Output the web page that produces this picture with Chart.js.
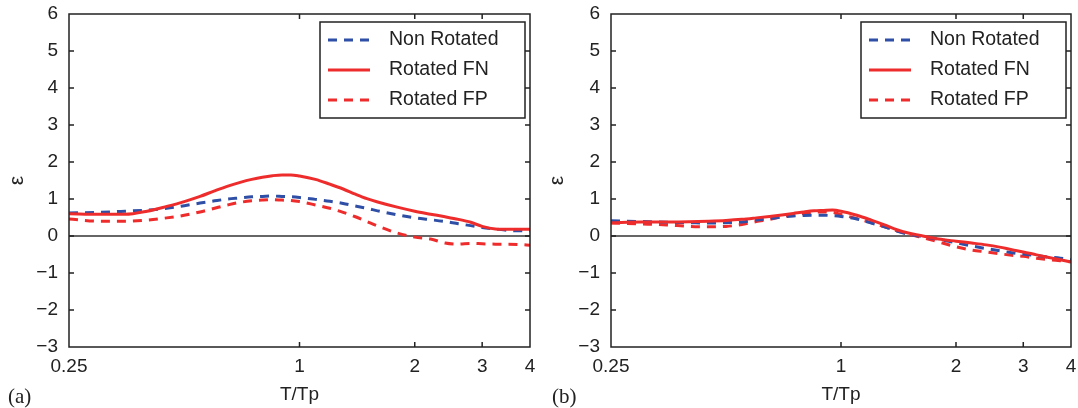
<!DOCTYPE html>
<html>
<head>
<meta charset="utf-8">
<script src="https://cdn.jsdelivr.net/npm/chart.js@4.4.1/dist/chart.umd.min.js"></script>
<style>
  html, body { margin: 0; padding: 0; background: #fff; }
  #wrap { position: relative; width: 1078px; height: 408px; }
  .panel { position: absolute; top: 0; height: 408px; }
  #panelA { left: 0; width: 540px; }
  #panelB { left: 540px; width: 538px; }
</style>
</head>
<body>
<div id="wrap">
  <div class="panel" id="panelA"><canvas id="chartA"></canvas></div>
  <div class="panel" id="panelB"><canvas id="chartB"></canvas></div>
</div>
<script>
// T/Tp values where each curve is sampled
const periods = [0.25, 0.3, 0.35, 0.4, 0.45, 0.5, 0.55, 0.6, 0.65, 0.7, 0.75, 0.8, 0.85, 0.9, 0.95,
                 1.0, 1.1, 1.2, 1.3, 1.4, 1.5, 1.6, 1.8, 2.0, 2.2, 2.4, 2.6, 2.8, 3.0, 3.25, 3.5, 3.75, 4.0];
const xTicks = [0.25, 1, 2, 3, 4];
const yMin = -3, yMax = 6;

const seriesNames = ["Non Rotated", "Rotated FN", "Rotated FP"];

// panel (a)
const nonRotatedA = [0.62, 0.64, 0.67, 0.70, 0.75, 0.82, 0.89, 0.95, 1.00, 1.03, 1.06, 1.07, 1.08, 1.07, 1.06,
                     1.04, 0.99, 0.94, 0.88, 0.81, 0.75, 0.68, 0.57, 0.49, 0.44, 0.39, 0.33, 0.28, 0.23, 0.19, 0.155, 0.14, 0.14];
const rotatedFnA  = [0.60, 0.585, 0.585, 0.67, 0.80, 0.93, 1.07, 1.22, 1.35, 1.45, 1.53, 1.59, 1.63, 1.65, 1.65,
                     1.62, 1.53, 1.40, 1.27, 1.13, 1.01, 0.92, 0.78, 0.67, 0.59, 0.52, 0.45, 0.37, 0.26, 0.19, 0.18, 0.18, 0.18];
const rotatedFpA  = [0.46, 0.40, 0.40, 0.43, 0.49, 0.56, 0.65, 0.75, 0.84, 0.91, 0.95, 0.97, 0.98, 0.97, 0.96,
                     0.93, 0.84, 0.75, 0.64, 0.52, 0.39, 0.27, 0.08, -0.03, -0.08, -0.19, -0.22, -0.20, -0.21, -0.22, -0.22, -0.23, -0.25];

// panel (b)
const nonRotatedB = [0.41, 0.39, 0.37, 0.36, 0.35, 0.36, 0.38, 0.43, 0.47, 0.51, 0.54, 0.555, 0.56, 0.56, 0.55,
                     0.53, 0.46, 0.35, 0.25, 0.13, 0.05, 0.0, -0.09, -0.18, -0.27, -0.34, -0.40, -0.45, -0.49, -0.53, -0.57, -0.60, -0.64];
const rotatedFnB  = [0.36, 0.38, 0.38, 0.385, 0.40, 0.42, 0.45, 0.49, 0.53, 0.57, 0.61, 0.65, 0.68, 0.69, 0.70,
                     0.67, 0.56, 0.43, 0.30, 0.17, 0.08, 0.02, -0.08, -0.14, -0.19, -0.24, -0.30, -0.37, -0.43, -0.51, -0.58, -0.64, -0.70];
const rotatedFpB  = [0.35, 0.325, 0.30, 0.26, 0.25, 0.26, 0.31, 0.39, 0.45, 0.52, 0.57, 0.61, 0.64, 0.65, 0.64,
                     0.58, 0.47, 0.36, 0.25, 0.14, 0.05, -0.02, -0.16, -0.29, -0.38, -0.43, -0.48, -0.52, -0.55, -0.60, -0.64, -0.67, -0.70];

const BLUE = "#2f4fa6";
const RED = "#ee2c2c";
const INK = "#222";

Chart.defaults.font.family = '"Liberation Sans", Arial, Helvetica, sans-serif';
Chart.defaults.color = INK;

const styles = [
  { color: BLUE, dash: [9, 7], order: 1 },
  { color: RED, dash: [], order: 0 },
  { color: RED, dash: [9, 7], order: 2 }
];

// box, inward ticks, zero line, legend and panel tag
const framePlugin = {
  id: "frame",
  beforeDatasetsDraw(chart) {
    const { ctx, chartArea: a, scales: { y } } = chart;
    const y0 = y.getPixelForValue(0);
    ctx.save();
    ctx.strokeStyle = "#333";
    ctx.lineWidth = 1.5;
    ctx.beginPath();
    ctx.moveTo(a.left, y0);
    ctx.lineTo(a.right, y0);
    ctx.stroke();
    ctx.restore();
  },
  afterDatasetsDraw(chart) {
    const { ctx, chartArea: a, scales: { x, y } } = chart;
    const tick = 5;
    ctx.save();
    ctx.strokeStyle = INK;
    ctx.lineWidth = 1.5;
    ctx.strokeRect(a.left, a.top, a.right - a.left, a.bottom - a.top);
    ctx.beginPath();
    for (let v = yMin + 1; v < yMax; v++) {
      const py = y.getPixelForValue(v);
      ctx.moveTo(a.left, py); ctx.lineTo(a.left + tick, py);
      ctx.moveTo(a.right, py); ctx.lineTo(a.right - tick, py);
    }
    xTicks.slice(1, -1).forEach(v => {
      const px = x.getPixelForValue(v);
      ctx.moveTo(px, a.bottom); ctx.lineTo(px, a.bottom - tick);
      ctx.moveTo(px, a.top); ctx.lineTo(px, a.top + tick);
    });
    ctx.stroke();
    ctx.restore();
  },
  afterDraw(chart, args, opts) {
    const { ctx, chartArea: a } = chart;
    const w = 205, h = 96;
    const bx = a.right - 5 - w, by = a.top + 8;
    ctx.save();
    ctx.fillStyle = "#fff";
    ctx.fillRect(bx, by, w, h);
    ctx.strokeStyle = INK;
    ctx.lineWidth = 1.5;
    ctx.strokeRect(bx, by, w, h);
    ctx.font = '19.5px "Liberation Sans", Arial, sans-serif';
    ctx.textBaseline = "middle";
    chart.data.datasets.forEach((ds, i) => {
      const ry = by + 18 + i * 30;
      ctx.strokeStyle = ds.borderColor;
      ctx.lineWidth = ds.borderWidth;
      ctx.setLineDash(ds.borderDash);
      ctx.beginPath();
      ctx.moveTo(bx + 8, ry);
      ctx.lineTo(bx + 50, ry);
      ctx.stroke();
      ctx.setLineDash([]);
      ctx.fillStyle = INK;
      ctx.fillText(ds.label, bx + 69, ry);
    });
    ctx.font = '21px "Liberation Serif", "Times New Roman", serif';
    ctx.fillStyle = INK;
    ctx.fillText(opts.tag, opts.tagX, 397);
    ctx.restore();
  }
};

function makePanel(canvasId, values, axisWidth, padRight, tag, tagX) {
  return new Chart(document.getElementById(canvasId), {
    type: "line",
    data: {
      datasets: seriesNames.map((name, i) => ({
        label: name,
        data: periods.map((t, k) => ({ x: t, y: values[i][k] })),
        borderColor: styles[i].color,
        borderDash: styles[i].dash,
        borderWidth: 3,
        order: styles[i].order,
        pointRadius: 0,
        fill: false,
        cubicInterpolationMode: "monotone"
      }))
    },
    options: {
      responsive: true,
      maintainAspectRatio: false,
      animation: false,
      devicePixelRatio: 1,
      layout: { padding: { top: 14, right: padRight, left: 0, bottom: 0 } },
      plugins: {
        legend: { display: false },
        tooltip: { enabled: false },
        frame: { tag: tag, tagX: tagX }
      },
      scales: {
        x: {
          type: "logarithmic",
          min: 0.25,
          max: 4,
          grid: { display: false, drawTicks: false },
          border: { display: false },
          afterBuildTicks: s => { s.ticks = xTicks.map(v => ({ value: v })); },
          afterFit: s => { s.height = 61; s.paddingLeft = 0; s.paddingRight = 0; },
          ticks: {
            autoSkip: false,
            maxRotation: 0,
            padding: 8,
            font: { size: 19 },
            callback: v => String(v)
          },
          title: { display: true, text: "T/Tp", font: { size: 19 }, padding: { top: 0, bottom: 2 } }
        },
        y: {
          min: yMin,
          max: yMax,
          grid: { display: false, drawTicks: false },
          border: { display: false },
          // keep the plot box fixed regardless of label heights
          afterFit: s => { s.width = axisWidth; s.paddingTop = 0; s.paddingBottom = 0; },
          ticks: {
            stepSize: 1,
            padding: 11,
            font: { size: 19 },
            callback: v => (v < 0 ? "\u2212" + Math.abs(v) : String(v))
          },
          title: { display: true, text: "\u03b5", font: { size: 21 }, padding: { top: 5, bottom: 0 } }
        }
      }
    },
    plugins: [framePlugin]
  });
}

makePanel("chartA", [nonRotatedA, rotatedFnA, rotatedFpA], 69, 10, "(a)", 8);
makePanel("chartB", [nonRotatedB, rotatedFnB, rotatedFpB], 71, 7, "(b)", 12);
</script>
</body>
</html>
